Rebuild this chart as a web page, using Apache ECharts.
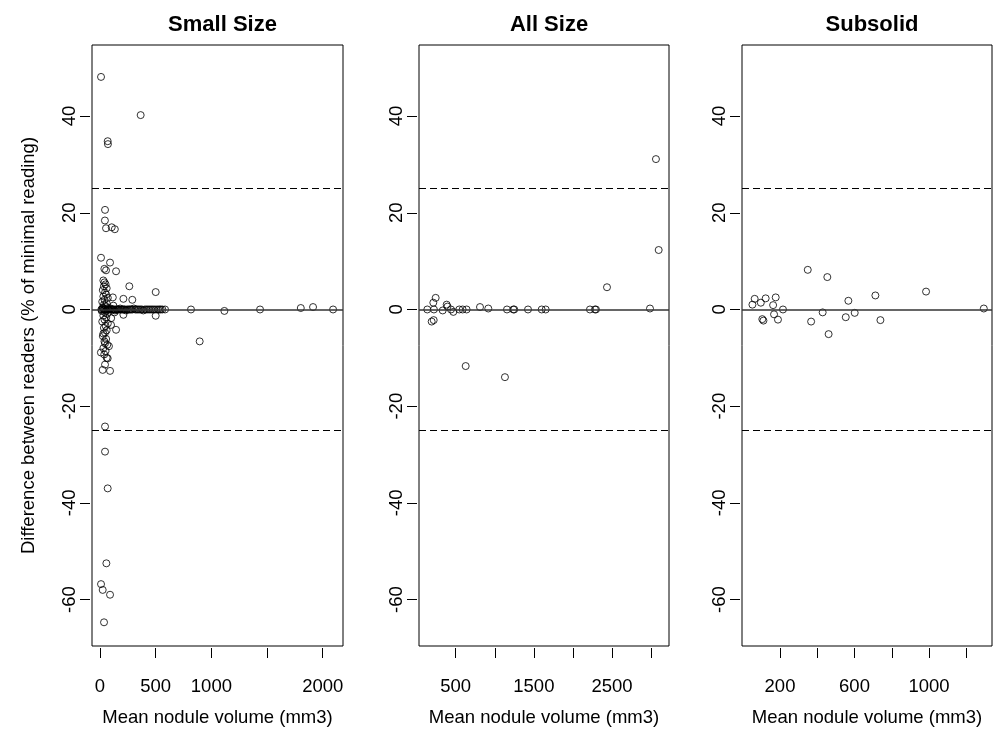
<!DOCTYPE html>
<html><head><meta charset="utf-8">
<script src="https://cdn.jsdelivr.net/npm/echarts@6/dist/echarts.min.js"></script>
<style>html,body{margin:0;padding:0;background:#fff}#c{width:997px;height:729px}</style>
</head><body><div id="c"></div>
<script>
const panelTitles = ['Small Size', 'All Size', 'Subsolid'];
const xAxisTitle = 'Mean nodule volume (mm3)';
const yAxisTitle = 'Difference between readers (% of minimal reading)';

// Small Size panel
const smallVolume = [9,365,69,71,45,44,54,105,133,9,90,39,54,144,263,210,290,500,500,210,144,99,895,817,1117,1437,1803,1913,2093,
  24,90,45,69,8,80,45,30,45,45,69,57,9,24,90,36,
  30,40,50,35,60,25,45,55,30,70,40,20,60,35,50,25,75,15,45,65,30,55,40,20,70,50,35,60,45,25,55,40,65,30,50,38,60,115,120,100,130,
  12,18,26,33,41,48,57,63,72,79,88,95,103,110,118,127,134,141,150,157,166,174,181,190,198,207,216,224,233,241,252,262,271,281,292,304,316,327,339,351,364,377,389,402,416,430,444,458,472,487,503,519,533,545,560,584];
const smallDiff = [48.1,40.2,34.8,34.2,20.6,18.4,16.8,17.0,16.6,10.7,9.7,8.4,8.1,7.9,4.8,2.2,2.0,3.6,-1.3,-1.1,-4.2,-3.2,-6.6,0,-0.3,0,0.3,0.5,0,
  -12.5,-12.7,-11.4,-10.1,-8.9,-7.6,-7.0,-5.0,-24.2,-29.4,-37.0,-52.5,-56.8,-58.0,-59.0,-64.7,
  6.0,5.6,5.2,4.8,4.4,4.0,3.5,3.1,2.7,2.4,2.0,1.6,1.3,1.0,0.7,0.4,0.3,-0.3,-0.6,-0.9,-1.3,-1.7,-2.1,-2.5,-2.9,-3.4,-3.8,-4.3,-4.8,-5.5,-6.1,-6.6,-7.3,-8.0,-8.6,-9.3,-10.0,2.5,0.8,-1.8,-0.6,
  0,0,0.2,0,0,0,-0.2,0,0,0,0,0.2,0,0,0,0,-0.2,0,0,0,0,0,0.2,0,0,0,0,0,-0.2,0,0,0,0,0,0,0.2,0,0,0,0,0,0,-0.2,0,0,0,0,0,0,0,0,0,0,0,0,0];

// All Size panel
const allVolume = [3061,3096,2435,2985,2217,2281,2294,1600,1651,1425,1156,1237,1249,917,811,628,1130,640,589,546,470,440,385,395,334,244,214,222,137,193,219];
const allDiff = [31.1,12.3,4.6,0.2,0,0,0,0,0,0,0,0,0,0.2,0.5,-11.7,-14.0,0,0,0,-0.5,0,1.0,0.6,-0.2,2.4,1.4,0,0,-2.5,-2.2];

// Subsolid panel
const subVolume = [52,64,97,123,177,163,216,168,189,105,111,349,367,454,429,461,567,553,601,712,739,984,1294];
const subDiff = [1.0,2.2,1.4,2.3,2.5,0.9,0,-1.0,-2.1,-2.0,-2.3,8.2,-2.5,6.7,-0.6,-5.1,1.8,-1.6,-0.7,2.9,-2.2,3.7,0.2];

const yTicks = [-60, -40, -20, 0, 20, 40];
const smallXTicks = [0, 500, 1000, 1500, 2000];
const smallXLabels = [0, 500, 1000, 2000];
const allXTicks = [500, 1000, 1500, 2000, 2500, 3000];
const allXLabels = [500, 1500, 2500];
const subXTicks = [200, 400, 600, 800, 1000, 1200];
const subXLabels = [200, 600, 1000];
const limitLines = [0, 25, -25];

const FONT = '"Liberation Sans", Arial, sans-serif';
const FS = 18.5;
const panels = [
  {left: 92, width: 251, xMin: -72, xMax: 2182, ticks: smallXTicks, labels: smallXLabels, vol: smallVolume, diff: smallDiff},
  {left: 419, width: 250, xMin: 31, xMax: 3228, ticks: allXTicks, labels: allXLabels, vol: allVolume, diff: allDiff},
  {left: 742, width: 250, xMin: -4, xMax: 1338, ticks: subXTicks, labels: subXLabels, vol: subVolume, diff: subDiff}
];
const TOP = 45, HEIGHT = 601;

const chart = echarts.init(document.getElementById('c'), null, {renderer: 'canvas'});
const option = {
  animation: false,
  backgroundColor: '#fff',
  title: panels.map((p, i) => ({
    text: panelTitles[i], left: p.left + p.width / 2, top: 9, textAlign: 'center',
    textStyle: {fontFamily: FONT, fontSize: 22, fontWeight: 'bold', color: '#000'}
  })),
  grid: panels.map(p => ({left: p.left, top: TOP, width: p.width, height: HEIGHT, show: true, borderColor: '#000', borderWidth: 1, backgroundColor: 'transparent', containLabel: false, outerBoundsMode: 'none'})),
  xAxis: panels.map((p, i) => ({
    type: 'value', gridIndex: i, min: p.xMin, max: p.xMax, offset: 2, position: 'bottom',
    axisLine: {show: false, onZero: false}, splitLine: {show: false},
    axisTick: {show: true, length: 10, customValues: p.ticks, lineStyle: {color: '#000', width: 1}},
    axisLabel: {customValues: p.labels, margin: 29, fontFamily: FONT, fontSize: FS, color: '#000', formatter: v => String(v)},
    name: xAxisTitle, nameLocation: 'middle', nameGap: 60,
    nameTextStyle: {fontFamily: FONT, fontSize: FS, color: '#000'}
  })),
  yAxis: panels.map((p, i) => ({
    type: 'value', gridIndex: i, min: -69.6, max: 54.7, offset: 2, position: 'left',
    axisLine: {show: false, onZero: false}, splitLine: {show: false},
    axisTick: {show: true, length: 10, customValues: yTicks, lineStyle: {color: '#000', width: 1}},
    axisLabel: {customValues: yTicks, rotate: 90, margin: 11, fontFamily: FONT, fontSize: FS, color: '#000', formatter: v => String(v)},
    name: i === 0 ? yAxisTitle : '', nameLocation: 'middle', nameGap: 52, nameRotate: 90,
    nameTextStyle: {fontFamily: FONT, fontSize: FS, color: '#000'}
  })),
  series: panels.map((p, i) => ({
    type: 'scatter', xAxisIndex: i, yAxisIndex: i,
    symbol: 'circle', symbolSize: 7,
    itemStyle: {color: 'rgba(0,0,0,0)', borderColor: '#000', borderWidth: 1},
    data: p.vol.map((v, k) => [v, p.diff[k]]),
    markLine: {
      silent: true, symbol: ['none', 'none'], label: {show: false}, animation: false,
      data: limitLines.map(y => ({yAxis: y, lineStyle: y === 0
        ? {type: 'solid', color: '#333', width: 1.5}
        : {type: [7, 4], color: '#000', width: 1}}))
    }
  }))
};
chart.setOption(option);
</script>
</body></html>
